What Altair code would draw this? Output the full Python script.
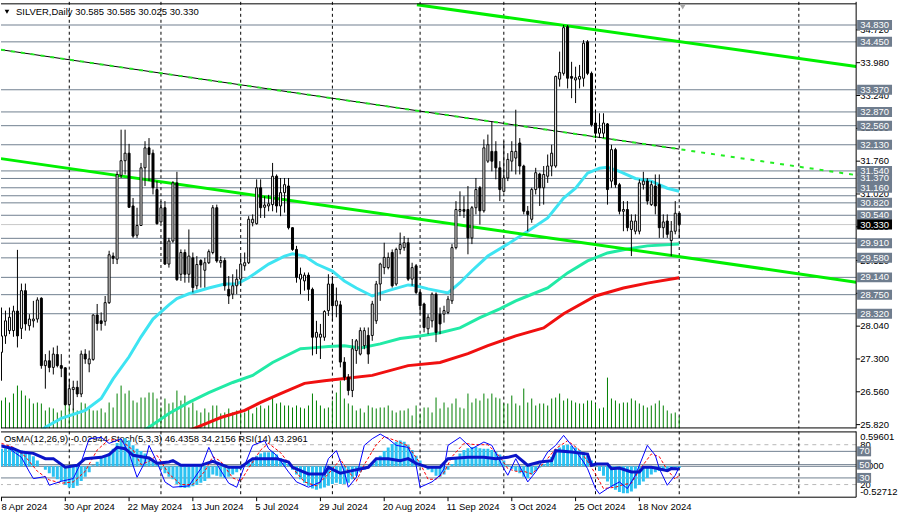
import altair as alt
import pandas as pd

FONT = "Liberation Sans"
FS = 9.5
W = 858
H_MAIN = 428
H_IND = 66
SLATE = "#708090"

# ---------------- daily bars, 8 Apr 2024 .. 2 Dec 2024 (bar 0..170) ----------------
opens = [27.45,27.82,27.94,27.94,28.38,27.99,28.84,28.05,28.16,28.20,
         28.67,27.15,27.26,27.11,27.40,27.15,27.10,26.27,26.61,26.66,
         26.51,27.41,27.19,27.29,28.29,28.16,28.15,28.57,29.62,29.55,
         31.44,31.77,31.94,30.75,30.09,30.31,31.61,32.06,31.94,31.12,
         30.39,30.71,29.44,29.96,31.27,29.21,29.70,29.21,29.58,28.95,
         29.52,29.30,29.47,29.70,30.71,29.47,29.52,28.87,28.76,28.95,
         29.10,29.40,29.47,30.37,30.35,31.16,30.72,30.75,30.78,31.42,
         30.75,31.05,31.20,30.26,29.77,29.10,29.06,29.19,28.87,27.79,
         27.79,27.79,28.39,28.99,28.50,28.52,27.23,26.89,26.59,27.49,
         27.41,27.60,27.83,27.83,28.16,28.99,29.36,29.36,29.70,28.99,
         29.77,29.81,29.92,29.10,29.40,28.80,28.54,27.98,28.16,28.76,
         28.31,28.31,28.35,28.61,29.81,30.63,30.67,30.67,30.03,30.71,
         31.16,30.64,31.76,31.98,31.98,31.61,31.08,31.38,31.76,31.83,
         32.17,31.65,30.63,30.45,31.12,31.47,31.16,31.42,31.65,31.65,
         33.61,33.74,34.79,33.67,33.59,33.61,33.63,34.45,33.74,32.62,
         32.39,32.39,32.60,31.31,32.02,31.23,30.63,30.67,30.22,30.18,
         30.18,31.23,31.31,30.78,31.20,31.23,30.26,30.41,29.97,30.18,
         30.585]
highs = [28.46,28.39,28.46,28.50,29.76,29.00,29.00,28.31,28.61,28.69,
         28.69,27.41,27.49,27.56,27.60,27.41,27.11,26.85,26.81,26.81,
         27.49,27.52,27.49,28.31,28.54,28.35,28.72,29.74,29.70,31.53,
         32.47,32.47,32.15,30.93,30.71,31.72,32.21,32.28,32.02,31.31,
         30.86,30.86,30.03,31.31,31.52,29.77,29.77,30.22,29.70,29.62,
         29.55,29.58,29.77,30.77,30.78,29.62,29.58,29.17,29.21,29.32,
         29.62,29.70,30.52,30.56,31.35,31.35,30.97,31.00,31.72,31.46,
         31.38,31.38,31.38,30.27,29.85,29.36,29.25,29.25,28.91,28.16,
         28.09,28.40,29.21,29.17,28.91,28.61,27.34,26.96,27.75,27.75,
         28.01,28.01,28.01,28.61,29.06,29.47,29.92,29.70,29.77,29.81,
         30.15,30.07,30.03,29.47,29.44,28.84,28.57,28.31,28.80,28.80,
         28.46,28.50,28.72,29.89,30.86,31.08,30.97,31.20,30.75,31.38,
         31.20,32.25,32.36,32.66,32.21,31.76,32.21,31.94,32.21,32.92,
         32.28,31.68,30.75,31.16,31.61,31.50,31.65,31.91,32.13,33.69,
         34.23,34.83,34.83,34.00,33.89,33.93,34.49,34.49,33.78,32.88,
         32.84,32.84,32.62,32.13,32.06,31.27,30.86,30.86,30.56,30.56,
         31.35,31.52,31.38,31.31,31.46,31.46,30.56,30.56,30.41,30.86,
         30.585]
lows = [26.81,27.64,27.86,27.80,27.56,27.75,27.94,27.94,28.01,28.12,
        27.08,26.63,27.00,26.95,27.11,26.89,26.25,26.25,26.14,26.44,
        26.44,27.19,27.00,27.26,27.94,27.94,28.05,28.54,29.44,29.44,
        31.38,31.46,30.71,30.03,30.03,30.30,31.20,31.31,31.01,30.33,
        30.37,29.42,29.36,29.92,29.06,29.06,29.02,29.02,28.80,28.87,
        28.91,28.91,29.44,29.66,29.47,29.36,28.84,28.54,28.65,28.76,
        28.95,29.29,29.44,30.29,30.33,30.48,30.48,30.63,30.63,30.60,
        30.52,30.60,30.22,29.74,29.02,28.76,28.84,28.61,27.38,27.41,
        27.30,27.71,28.27,28.16,28.24,27.11,26.81,26.48,26.44,27.19,
        27.38,27.52,27.19,27.71,28.09,28.61,29.21,29.32,28.91,28.95,
        29.66,29.74,29.06,28.95,28.76,28.31,27.90,27.86,28.01,27.68,
        27.86,28.12,28.31,28.54,29.77,30.52,30.48,29.66,29.89,30.56,
        30.33,30.60,31.72,31.53,31.35,30.86,31.05,31.31,31.53,31.46,
        31.46,30.56,30.18,30.37,31.01,30.75,30.78,31.27,31.42,31.61,
        33.44,33.69,33.40,33.18,33.07,33.40,33.44,33.70,32.54,32.28,
        32.28,32.28,30.78,31.16,31.16,30.56,30.18,30.18,29.62,30.11,
        30.11,31.12,30.78,30.75,30.56,30.03,30.03,30.03,29.62,30.11,
        30.025]
closes = [27.82,28.16,28.24,28.38,27.82,28.84,28.09,28.20,28.20,28.63,
          27.15,27.26,27.11,27.41,27.15,27.09,26.27,26.63,26.66,26.51,
          27.41,27.30,27.30,28.29,28.10,28.10,28.57,29.65,29.57,31.46,
          31.77,31.94,30.72,30.07,30.31,31.61,32.06,31.91,31.16,30.35,
          30.71,29.44,29.96,31.27,29.09,29.70,29.21,29.62,28.91,29.43,
          29.42,29.47,29.72,30.71,29.51,29.52,28.95,28.72,28.95,29.10,
          29.44,29.47,30.45,30.45,31.16,30.71,30.77,30.80,31.42,30.75,
          31.05,31.23,30.26,29.77,29.14,29.21,29.19,28.87,27.79,27.90,
          27.86,28.37,28.99,28.50,28.61,27.23,26.89,26.59,27.53,27.71,
          27.94,27.94,27.41,28.54,28.99,29.44,29.59,29.59,28.95,29.77,
          29.88,29.92,29.10,29.36,28.80,28.50,28.01,28.24,28.76,27.90,
          28.09,28.39,28.65,29.81,30.67,30.67,30.63,30.03,30.71,31.12,
          30.64,32.06,32.13,31.76,31.61,31.12,31.38,31.80,31.98,31.98,
          31.65,30.63,30.56,31.12,31.50,31.16,31.46,31.65,31.94,33.67,
          33.76,34.77,33.63,33.63,33.64,33.67,34.42,33.74,32.58,32.39,
          32.50,32.62,31.12,32.02,31.23,30.63,30.67,30.26,30.41,30.41,
          31.27,31.31,30.86,31.23,30.75,30.26,30.39,30.11,30.18,30.585,
          30.33]
tick_volume = [28,31,26,35,43,38,33,30,25,26,25,18,21,20,16,18,26,23,20,18,26,25,20,18,18,20,16,26,21,35,
               43,35,38,28,26,31,31,36,36,30,21,30,25,26,
               38,28,33,21,26,18,16,20,16,23,23,15,16,20,16,18,16,16,21,15,21,23,20,23,31,25,26,23,23,21,
               23,21,20,23,35,28,23,20,21,28,36,
               48,30,25,23,18,20,16,23,21,20,21,21,23,18,16,18,18,20,13,23,15,21,21,16,31,20,26,21,25,30,
               21,20,35,26,30,28,35,30,35,31,30,25,25,
               33,25,23,40,26,30,23,25,25,23,30,31,35,28,30,28,26,25,25,28,28,25,20,21,51,30,28,25,26,26,
               30,28,25,23,21,23,25,28,23,18,15,16,12]
osma = [0.30,0.31,0.30,0.28,0.28,0.27,0.25,0.22,0.17,0.10,0.0,
        -0.06,-0.12,-0.18,-0.22,-0.26,-0.32,-0.36,-0.37,-0.33,-0.25,-0.18,-0.10,
        0.02,0.08,0.14,0.18,0.22,0.30,0.40,0.46,0.48,0.44,0.36,0.30,0.26,0.22,0.16,0.10,0.03,-0.04,
        -0.12,-0.18,-0.22,-0.30,-0.36,-0.37,-0.36,-0.34,-0.32,-0.28,-0.25,-0.20,-0.14,
        -0.16,-0.18,-0.20,-0.18,-0.14,-0.10,-0.05,0.0,0.06,0.12,0.18,0.22,0.24,0.24,0.25,
        0.20,0.14,0.10,0.04,-0.06,-0.14,-0.22,-0.28,-0.33,-0.38,-0.40,-0.38,-0.36,-0.33,
        -0.30,-0.28,-0.30,-0.30,-0.28,-0.22,-0.16,-0.10,-0.06,-0.02,0.04,0.10,
        0.18,0.26,0.32,0.38,0.42,0.44,0.42,0.36,0.28,0.18,0.10,0.02,
        -0.06,-0.10,-0.16,-0.18,-0.14,-0.06,0.04,
        0.14,0.22,0.28,0.31,0.33,0.33,0.31,0.30,0.30,0.28,0.25,0.20,0.10,0.02,
        -0.04,-0.08,-0.12,-0.18,-0.20,-0.14,-0.08,-0.02,0.04,
        0.10,0.16,0.26,0.32,0.36,0.37,0.35,0.32,0.28,0.24,0.18,0.10,0.02,
        -0.08,-0.16,-0.26,-0.34,-0.40,-0.44,-0.46,-0.46,-0.43,-0.38,-0.32,-0.26,-0.20,
        -0.14,-0.10,-0.08,-0.06,-0.05,-0.04,-0.03,-0.029]

# ---------------- moving averages (read at sample bars) ----------------
ma_aqua_bar = [8,11,15,21,25,28,32,35,38,42,44,47,52,56,59,62,67,71,73,76,79,83,86,89,93,97,102,104,107,112,
               115,118,122,127,132,137,141,144,147,150,152,155,159,163,167,170]
ma_aqua_val = [25.55,25.76,25.96,26.14,26.41,26.85,27.35,27.80,28.20,28.52,28.66,28.77,28.90,28.99,28.99,29.13,
               29.44,29.62,29.67,29.62,29.44,29.28,29.06,28.90,28.72,28.84,28.97,28.95,28.88,28.79,
               29.02,29.29,29.62,29.89,30.18,30.48,30.93,31.15,31.49,31.60,31.62,31.53,31.37,31.31,31.15,31.08]
ma_spring_bar = [34,37,42,47,52,58,63,68,75,78,82,86,90,95,100,105,110,115,120,125,129,132,137,142,147,152,157,162,170]
ma_spring_val = [25.60,25.76,26.07,26.32,26.54,26.77,26.93,27.22,27.53,27.55,27.58,27.60,27.55,27.64,27.76,
                 27.82,27.89,28.00,28.23,28.43,28.61,28.72,28.90,29.24,29.51,29.69,29.78,29.85,29.89]
ma_red_bar = [46,49,55,61,65,70,76,81,86,93,102,110,117,122,129,136,141,149,156,162,170]
ma_red_val = [25.65,25.76,25.98,26.14,26.32,26.52,26.75,26.81,26.86,26.93,27.15,27.22,27.42,27.60,27.82,
              28.00,28.32,28.72,28.90,29.01,29.13]

# ---------------- oscillators (read at sample bars) ----------------
rsi_bar = [0,3,5,8,11,13,16,19,21,25,27,29,31,33,37,39,42,43,45,50,53,57,60,63,67,69,72,73,77,81,82,85,88,92,94,
           97,100,102,104,107,110,112,117,121,124,127,129,131,132,135,138,139,143,147,148,149,152,153,155,158,
           160,161,163,164,167,168,170]
rsi_val = [78,74,69,67,59,59,46,49,59,61,65,76,74,64,60,52,54,56,49,49,55,46,46,59,59,59,54,46,36,36,46,37,41,46,59,
           59,56,59,52,46,46,59,61,61,59,61,64,54,49,54,56,71,69,66,49,51,51,44,45,39,39,46,46,45,41,44,43.3]
stoch_bar = [0,2,5,7,8,11,12,15,18,20,22,25,27,30,32,34,36,37,39,41,43,47,50,52,54,57,59,61,63,66,67,69,72,74,77,
             80,82,84,86,87,89,91,93,95,97,99,102,104,105,108,110,111,112,115,118,121,123,126,127,129,132,134,
             137,139,141,143,146,147,149,150,152,155,157,159,162,164,165,167,169,170]
stoch_val = [79,74,61,39,29,32,19,25,29,54,89,91,82,89,67,31,54,79,54,24,16,18,44,76,51,22,16,49,79,86,74,64,39,24,16,
             24,59,71,39,16,31,79,89,96,89,79,76,49,16,24,34,44,79,91,74,84,79,44,34,59,24,39,
             69,79,94,79,54,44,14,6,14,24,14,34,79,64,44,19,34,46.4]
signal_bar = [0,3,6,9,12,15,18,21,24,27,30,33,35,37,39,42,45,48,51,53,55,58,60,62,65,67,70,73,76,79,82,85,87,89,91,
              94,96,99,102,105,107,109,111,113,116,119,122,125,127,129,131,133,136,139,142,145,147,149,151,154,
              156,158,160,163,165,167,169,170]
signal_val = [82,76,62,40,27,22,24,40,72,88,86,72,50,55,64,36,20,20,40,62,55,30,25,45,72,82,68,45,24,18,36,58,40,25,50,
              80,92,86,78,52,28,28,38,62,82,80,80,62,44,40,40,36,52,74,86,72,55,36,14,16,
              20,22,42,66,62,42,28,34.2]

# ---------------- levels, ticks, separators, dates ----------------
level_prices = [34.83,34.45,33.37,32.87,32.56,32.13,31.54,31.37,31.16,30.98,30.82,30.54,30.02,29.91,29.58,29.14,28.75,28.32]
box_prices = [34.83,34.45,33.37,32.87,32.56,32.13,31.54,31.37,31.16,30.82,30.54,29.91,29.58,29.14,28.75,28.32]
box_labels = ["34.830","34.450","33.370","32.870","32.560","32.130","31.540","31.370","31.160","30.820",
              "30.540","29.910","29.580","29.140","28.750","28.320"]
tick_prices = [25.82,26.56,27.30,28.04,28.78,29.52,30.28,31.02,31.76,32.50,33.24,33.98,34.72]
tick_labels = ["25.820","26.560","27.300","28.040","28.780","29.520","30.280","31.020","31.760","32.500",
               "33.240","33.980","34.720"]
month_sep_bars = [17,40,60,83,105,126,149,170,200]
date_label_bars = [0,16,32,48,64,80,96,112,128,144,160]
date_labels = ["8 Apr 2024","30 Apr 2024","22 May 2024","13 Jun 2024","5 Jul 2024","29 Jul 2024",
               "20 Aug 2024","11 Sep 2024","3 Oct 2024","25 Oct 2024","18 Nov 2024"]
last_price = 30.33

# trend lines (bar, price)
tl_top_bar, tl_top_val = [104.2, 214.375], [35.285, 33.896]
tl_mid_bar, tl_mid_val = [-0.125, 214.375], [31.817, 29.031]
tl_blk_bar, tl_blk_val = [-0.125, 170.0], [34.273, 32.032]
tl_dash_bar, tl_dash_val = [-0.125, 214.375], [34.273, 31.446]

n = len(closes)
assert all(len(a) == n for a in [opens, highs, lows, tick_volume, osma])
dates = pd.bdate_range("2024-04-08", periods=n)

candles = pd.DataFrame({"bar": list(range(n)), "date": dates.strftime("%Y-%m-%d"),
                        "open": opens, "high": highs, "low": lows, "close": closes,
                        "vol": tick_volume, "osma": osma})
candles["dir"] = ["up" if c >= o else "down" for o, c in zip(opens, closes)]
candles["btop"] = candles[["open", "close"]].max(axis=1)
candles["bbot"] = candles[["open", "close"]].min(axis=1)
candles["zero"] = 0.0

XS = alt.Scale(domain=[-0.125, 214.375], nice=False, zero=False)
YS = alt.Scale(domain=[25.734, 35.352], nice=False, zero=False)
VS = alt.Scale(domain=[0, 428], nice=False, zero=False)
IS = alt.Scale(domain=[1, 100], nice=False, zero=False)
OS = alt.Scale(domain=[-0.52712, 0.59601], nice=False, zero=False)


def X(f="bar"):
    return alt.X(f"{f}:Q", scale=XS, axis=None)


def Y(f, s=YS):
    return alt.Y(f"{f}:Q", scale=s, axis=None)


def series(b, v):
    return pd.DataFrame({"bar": b, "v": v})


one = pd.DataFrame({"a": [0]})
txt = dict(font=FONT, fontSize=FS)

# ================= main panel =================
m = []
m.append(alt.Chart(pd.DataFrame({"p": level_prices})).mark_rule(color=SLATE, strokeWidth=1).encode(y=Y("p")))
m.append(alt.Chart(pd.DataFrame({"p": [last_price]})).mark_rule(color="#c8c8c8", strokeWidth=1).encode(y=Y("p")))
m.append(alt.Chart(pd.DataFrame({"b": month_sep_bars})).mark_rule(color="black", strokeDash=[3, 3], strokeWidth=1)
         .encode(x=X("b")))
m.append(alt.Chart(candles).mark_rule(color="#008000", strokeWidth=1, clip=True)
         .encode(x=X(), y=Y("vol", VS), y2=alt.value(H_MAIN)))
for b, v, col in [(ma_red_bar, ma_red_val, "#f01010"), (ma_spring_bar, ma_spring_val, "#22eaa6"),
                  (ma_aqua_bar, ma_aqua_val, "#3ee4f2")]:
    m.append(alt.Chart(series(b, v)).mark_line(color=col, strokeWidth=3, clip=True).encode(x=X(), y=Y("v")))
m.append(alt.Chart(series(tl_top_bar, tl_top_val)).mark_line(color="#00f000", strokeWidth=3, clip=True)
         .encode(x=X(), y=Y("v")))
m.append(alt.Chart(series(tl_mid_bar, tl_mid_val)).mark_line(color="#00f000", strokeWidth=3, clip=True)
         .encode(x=X(), y=Y("v")))
m.append(alt.Chart(series(tl_blk_bar, tl_blk_val)).mark_line(color="black", strokeWidth=1, clip=True)
         .encode(x=X(), y=Y("v")))
m.append(alt.Chart(series(tl_dash_bar, tl_dash_val)).mark_line(color="#22ee22", strokeWidth=2, strokeDash=[4, 6], clip=True)
         .encode(x=X(), y=Y("v")))
m.append(alt.Chart(candles).mark_rule(color="black", strokeWidth=1, clip=True)
         .encode(x=X(), y=Y("low"), y2="high"))
m.append(alt.Chart(candles).mark_rect(stroke="black", strokeWidth=1, xOffset=-1, x2Offset=1, clip=True)
         .encode(x=X(), x2="bar", y=Y("btop"), y2="bbot",
                 fill=alt.Fill("dir:N", scale=alt.Scale(domain=["up", "down"], range=["#ffffff", "#000000"]),
                               legend=None)))
# frame
m.append(alt.Chart(one).mark_rule(color="black", strokeWidth=1)
         .encode(x=alt.value(W), y=alt.value(0), y2=alt.value(H_MAIN)))
m.append(alt.Chart(one).mark_rule(color="black", strokeWidth=1).encode(y=alt.value(2)))
m.append(alt.Chart(one).mark_rule(color="black", strokeWidth=1).encode(y=alt.value(H_MAIN - 0.5)))
# price scale
tick_df = pd.DataFrame({"p": tick_prices, "label": tick_labels})
m.append(alt.Chart(tick_df).mark_rule(color="black", strokeWidth=1)
         .encode(x=alt.value(W), x2=alt.value(W + 4), y=Y("p")))
m.append(alt.Chart(tick_df).mark_text(align="left", baseline="middle", color="black", **txt)
         .encode(x=alt.value(W + 4), y=Y("p"), text="label:N"))
box_df = pd.DataFrame({"p": box_prices, "label": box_labels})
m.append(alt.Chart(box_df).mark_rect(color="#6f7d8e", yOffset=-5, y2Offset=5)
         .encode(x=alt.value(W + 1), x2=alt.value(W + 36), y=Y("p"), y2="p"))
m.append(alt.Chart(box_df).mark_text(align="left", baseline="middle", color="white", **txt)
         .encode(x=alt.value(W + 4), y=Y("p"), text="label:N"))
cur_df = pd.DataFrame({"p": [last_price], "label": ["30.330"]})
m.append(alt.Chart(cur_df).mark_rect(color="black", yOffset=-5, y2Offset=5)
         .encode(x=alt.value(W + 1), x2=alt.value(W + 36), y=Y("p"), y2="p"))
m.append(alt.Chart(cur_df).mark_text(align="left", baseline="middle", color="white", **txt)
         .encode(x=alt.value(W + 4), y=Y("p"), text="label:N"))
# header
m.append(alt.Chart(one).mark_point(shape="triangle-down", filled=True, color="black", size=22, opacity=1)
         .encode(x=alt.value(6), y=alt.value(10)))
m.append(alt.Chart(one).mark_text(align="left", baseline="middle", color="black", **txt)
         .encode(x=alt.value(15), y=alt.value(10.5), text=alt.value("SILVER,Daily  30.585 30.585 30.025 30.330")))
m.append(alt.Chart(one).mark_point(shape="triangle-down", filled=True, color="#a8a8a8", size=40, opacity=1)
         .encode(x=alt.value(684), y=alt.value(5)))

top = alt.layer(*m).resolve_scale(y="independent").properties(width=W, height=H_MAIN)

# ================= indicator panel =================
b = []
b.append(alt.Chart(pd.DataFrame({"v": [80, 20]})).mark_rule(color="#b8b8b8", strokeDash=[4, 4], strokeWidth=1)
         .encode(y=Y("v", IS)))
b.append(alt.Chart(pd.DataFrame({"v": [70, 50, 30]})).mark_rule(color=SLATE, strokeWidth=1)
         .encode(y=Y("v", IS)))
b.append(alt.Chart(pd.DataFrame({"v": [0.0]})).mark_rule(color=SLATE, strokeWidth=1).encode(y=Y("v", OS)))
b.append(alt.Chart(pd.DataFrame({"b": month_sep_bars})).mark_rule(color="black", strokeDash=[3, 3], strokeWidth=1)
         .encode(x=X("b")))
b.append(alt.Chart(one).mark_text(align="left", baseline="middle", color="black", **txt)
         .encode(x=alt.value(3), y=alt.value(8),
                 text=alt.value("OsMA(12,26,9) -0.02944  Stoch(5,3,3) 46.4358 34.2156  RSI(14) 43.2961")))
b.append(alt.Chart(candles).mark_rule(color="#2cc2f2", strokeWidth=3, clip=True)
         .encode(x=X(), y=Y("osma", OS), y2="zero"))
b.append(alt.Chart(series(signal_bar, signal_val)).mark_line(color="#ff0000", strokeWidth=1, strokeDash=[3, 2], clip=True)
         .encode(x=X(), y=Y("v", IS)))
b.append(alt.Chart(series(stoch_bar, stoch_val)).mark_line(color="#0000ff", strokeWidth=1, clip=True)
         .encode(x=X(), y=Y("v", IS)))
b.append(alt.Chart(series(rsi_bar, rsi_val)).mark_line(color="#0a14c8", strokeWidth=3, clip=True)
         .encode(x=X(), y=Y("v", IS)))
# frame
b.append(alt.Chart(one).mark_rule(color="black", strokeWidth=1).encode(y=alt.value(0.5)))
b.append(alt.Chart(one).mark_rule(color="black", strokeWidth=1).encode(y=alt.value(H_IND)))
b.append(alt.Chart(one).mark_rule(color="black", strokeWidth=1)
         .encode(x=alt.value(W), y=alt.value(0), y2=alt.value(H_IND)))
# right-side scale labels
plain_df = pd.DataFrame({"v": [100, 80, 20, 1], "label": ["0.59601", "80", "20", "-0.52712"],
                         "dy": [5.5, 0, 0, -5]})
for v, lab, dyy in zip(plain_df["v"], plain_df["label"], plain_df["dy"]):
    b.append(alt.Chart(pd.DataFrame({"v": [v], "label": [lab]}))
             .mark_text(align="left", baseline="middle", color="black", dy=float(dyy), **txt)
             .encode(x=alt.value(W + 4), y=Y("v", IS), text="label:N"))
b.append(alt.Chart(pd.DataFrame({"v": [0.0], "label": ["0.000"]}))
         .mark_text(align="left", baseline="middle", color="black", **txt)
         .encode(x=alt.value(W + 4), y=Y("v", OS), text="label:N"))
lvl_df = pd.DataFrame({"v": [70, 50, 30], "label": ["70", "50", "30"]})
b.append(alt.Chart(lvl_df).mark_rect(color="#6f7d8e", yOffset=-5, y2Offset=5)
         .encode(x=alt.value(W + 1), x2=alt.value(W + 15), y=Y("v", IS), y2="v"))
b.append(alt.Chart(lvl_df).mark_text(align="left", baseline="middle", color="white", **txt)
         .encode(x=alt.value(W + 3), y=Y("v", IS), text="label:N"))
# date axis
dl = pd.DataFrame({"bar": date_label_bars, "label": date_labels})
b.append(alt.Chart(dl).mark_rule(color="black", strokeWidth=1)
         .encode(x=X(), y=alt.value(H_IND), y2=alt.value(H_IND + 4)))
b.append(alt.Chart(dl.iloc[:1]).mark_text(align="left", baseline="middle", color="black", **txt)
         .encode(x=X(), y=alt.value(H_IND + 9.5), text="label:N"))
b.append(alt.Chart(dl.iloc[1:]).mark_text(align="left", baseline="middle", color="black", dx=-1.5, **txt)
         .encode(x=X(), y=alt.value(H_IND + 9.5), text="label:N"))

bottom = alt.layer(*b).resolve_scale(y="independent").properties(width=W, height=H_IND)

chart = (alt.vconcat(top, bottom, spacing=3, bounds="flush")
         .properties(padding=0, background="white")
         .configure_view(stroke="transparent"))

chart.save("out.html", embed_options={"renderer": "svg", "actions": False})
